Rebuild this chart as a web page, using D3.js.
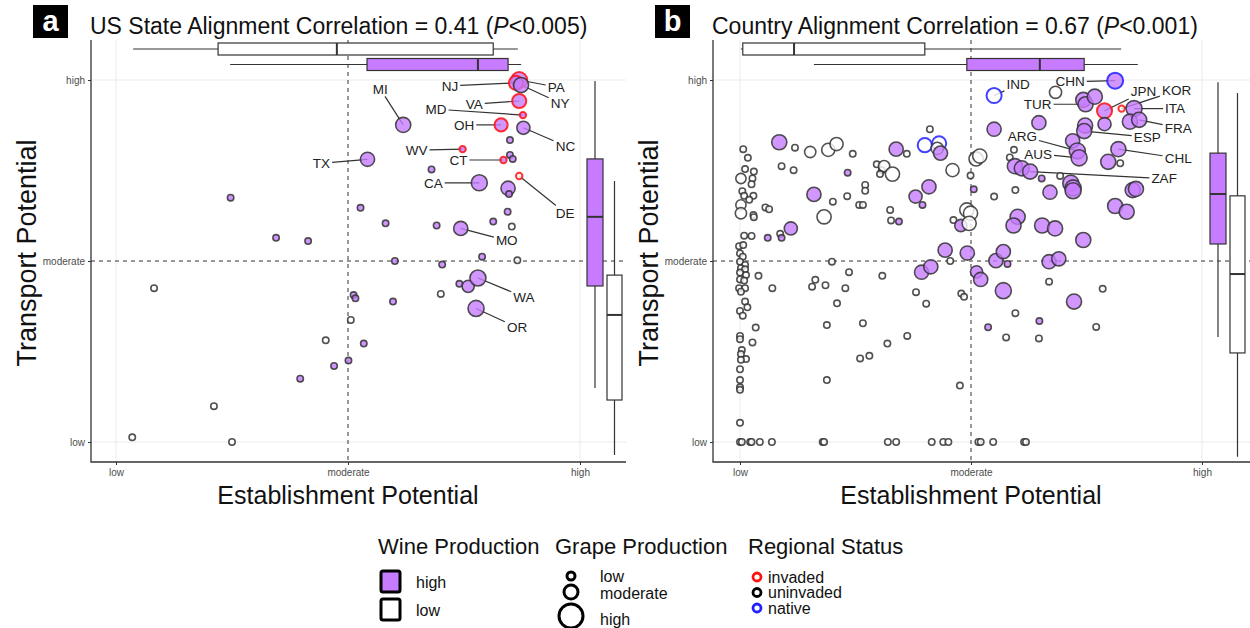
<!DOCTYPE html>
<html>
<head>
<meta charset="utf-8">
<script src="https://cdn.jsdelivr.net/npm/d3@7"></script>
<style>
  body { margin: 0; background: #fff; }
  svg text { font-family: "Liberation Sans", Arial, Helvetica, sans-serif; }
</style>
</head>
<body>
<svg id="chart" width="1250" height="628"></svg>
<script>
// ---- data -------------------------------------------------------------
// potentials are on a 0 (low) .. 50 (moderate) .. 100 (high) scale
const levelTicks = [0, 50, 100];
const levelLabels = ["low", "moderate", "high"];

// [label, establishment, transport, grape (0..1), wine (h/l), status (i/u/n)]
const usStates = [
  ["", 24.7, 67.5, 0, "h", "u"], ["", 34.5, 56.4, 0, "h", "u"], ["", 41.4, 55.5, 0, "h", "u"],
  ["MI", 61.9, 87.6, 0.75, "h", "u"], ["TX", 54.2, 78.1, 0.67, "h", "u"],
  ["PA", 86.9, 100, 0.83, "h", "i"], ["NJ", 86.2, 99.2, 0.67, "h", "i"], ["NY", 87.3, 98.6, 0.75, "h", "u"],
  ["VA", 86.9, 94.2, 0.67, "h", "i"], ["MD", 87.7, 90.3, 0, "h", "i"], ["OH", 83.0, 87.6, 0.58, "h", "i"],
  ["NC", 87.8, 86.8, 0.58, "h", "u"], ["", 84.9, 83.4, 0, "h", "u"], ["WV", 74.7, 80.9, 0, "h", "i"],
  ["CT", 83.5, 77.9, 0, "h", "i"], ["", 84.9, 79.3, 0, "h", "u"], ["", 85.5, 78.2, 0, "h", "u"],
  ["", 68.0, 75.3, 0, "h", "u"], ["CA", 78.3, 71.6, 0.83, "h", "u"], ["", 84.5, 70.1, 0.67, "h", "u"],
  ["", 84.7, 68.5, 0, "h", "u"], ["DE", 86.9, 73.5, 0, "l", "i"], ["", 52.7, 64.7, 0, "h", "u"],
  ["", 84.4, 63.6, 0, "h", "u"], ["", 58.1, 60.4, 0, "h", "u"], ["", 69.1, 59.8, 0, "h", "u"],
  ["", 81.3, 60.9, 0, "h", "u"], ["", 85.3, 59.5, 0, "l", "u"], ["MO", 74.3, 59.0, 0.67, "h", "u"],
  ["", 78.9, 51.2, 0, "h", "u"], ["", 60.1, 50.0, 0, "h", "u"], ["", 86.5, 50.2, 0, "l", "u"],
  ["", 70.3, 49.0, 0, "h", "u"], ["", 8.2, 42.5, 0, "l", "u"], ["", 51.2, 40.6, 0, "h", "u"],
  ["", 51.6, 39.7, 0, "h", "u"], ["", 59.7, 38.8, 0, "h", "u"], ["", 70.0, 40.9, 0, "l", "u"],
  ["", 74.0, 43.7, 0, "h", "u"], ["", 75.9, 43.0, 0.5, "h", "u"], ["WA", 78.0, 45.3, 0.83, "h", "u"],
  ["OR", 77.6, 36.9, 0.83, "h", "u"], ["", 50.6, 33.7, 0, "l", "u"], ["", 45.2, 28.1, 0, "l", "u"],
  ["", 53.4, 27.2, 0, "h", "u"], ["", 50.1, 22.5, 0, "h", "u"], ["", 47.0, 21.0, 0, "h", "u"],
  ["", 39.7, 17.5, 0, "h", "u"], ["", 21.1, 9.9, 0, "l", "u"], ["", 3.5, 1.3, 0, "l", "u"],
  ["", 25.0, 0, 0, "l", "u"]
];

const countries = [
  ["", 8.5, 82.8, .75, "h", "u"], ["", 11.9, 81.3, 0, "l", "u"], ["", 15.2, 80.1, .42, "l", "u"],
  ["", 19.1, 80.7, .58, "l", "u"], ["", 20.9, 82.3, .58, "l", "u"], ["", 24.4, 79.6, 0, "l", "u"],
  ["", 0.7, 80.9, 0, "l", "u"], ["", 1.7, 78.5, 0, "l", "u"], ["", 9.0, 76.2, 0, "l", "u"],
  ["", 11.6, 75.1, 0, "l", "u"], ["", 1.1, 75.4, 0, "l", "u"], ["", 3.0, 74.7, 0, "l", "u"],
  ["", 0.2, 72.8, .33, "l", "u"], ["", 2.7, 72.8, 0, "l", "u"], ["", 2.5, 71.2, 0, "l", "u"],
  ["", 0.5, 69.3, 0, "l", "u"], ["", 0.9, 68.0, 0, "l", "u"], ["", 2.9, 68.0, 0, "l", "u"],
  ["", 2.0, 66.9, 0, "l", "u"], ["", 0.2, 65.5, .33, "l", "u"], ["", 0.2, 63.2, .42, "l", "u"],
  ["", 2.9, 62.7, 0, "l", "u"], ["", 3.0, 62.1, 0, "l", "u"], ["", 0.9, 57.0, 0, "l", "u"],
  ["", 2.5, 56.9, 0, "l", "u"], ["", -0.2, 54.1, 0, "l", "u"], ["", 0.7, 54.4, 0, "l", "u"],
  ["", 0, 52.1, 0, "l", "u"], ["", 0.6, 51.2, 0, "l", "u"], ["", 23.3, 74.4, 0, "h", "u"],
  ["", 16.0, 68.4, .67, "h", "u"], ["", 20.1, 66.4, 0, "l", "u"], ["", 23.2, 67.9, 0, "l", "u"],
  ["", 18.2, 62.2, .67, "l", "u"], ["", 5.5, 64.8, 0, "l", "u"], ["", 6.3, 64.3, 0, "l", "u"],
  ["", 11.0, 59.0, .58, "h", "u"], ["", 6.0, 56.4, 0, "h", "u"], ["", 8.7, 57.5, 0, "l", "u"],
  ["", 9.0, 56.4, 0, "h", "u"], ["", 27.1, 71.0, 0, "l", "u"], ["", 27.1, 69.4, 0, "l", "u"],
  ["", 25.8, 65.5, 0, "l", "u"], ["", 26.6, 65.5, 0, "l", "u"], ["", 29.6, 76.7, 0, "l", "u"],
  ["", 30.7, 75.1, 0, "l", "u"], ["", 31.2, 76.2, .42, "l", "u"], ["", 33.0, 74.0, .67, "l", "u"],
  ["", 30.3, 74.0, 0, "l", "u"], ["", 33.8, 80.9, .67, "h", "u"], ["", 36.1, 79.6, 0, "l", "u"],
  ["", 41.1, 86.4, 0, "l", "u"], ["", 40.0, 82.0, .67, "l", "n"], ["", 43.1, 82.5, .67, "l", "n"],
  ["", 42.7, 81.1, .5, "l", "u"], ["", 43.4, 79.8, .67, "h", "u"], ["", 46.0, 75.1, .58, "l", "u"],
  ["", 49.9, 73.6, 0, "l", "u"], ["", 51.1, 78.2, .67, "l", "u"], ["", 51.9, 79.0, .67, "l", "u"],
  ["", 50.6, 69.8, 0, "h", "u"], ["", 40.9, 70.5, .67, "h", "u"], ["", 38.0, 67.8, .58, "h", "u"],
  ["", 39.5, 65.5, 0, "h", "u"], ["", 32.5, 64.1, 0, "l", "u"], ["", 32.7, 61.2, 0, "l", "u"],
  ["", 34.4, 60.9, 0, "h", "u"], ["", 46.2, 61.3, 0, "l", "u"], ["", 47.8, 59.8, .5, "h", "u"],
  ["", 49.1, 64.1, .67, "l", "u"], ["", 49.9, 63.2, .67, "l", "u"], ["", 49.6, 60.4, .67, "l", "u"],
  ["", 44.4, 53.0, .67, "h", "u"], ["", 49.2, 52.2, .67, "h", "u"],
  ["", 0, 49.8, 0, "l", "u"], ["", 1.1, 48.9, 0, "l", "u"], ["", 0.2, 48.0, 0, "l", "u"],
  ["", 1.1, 47.7, 0, "l", "u"], ["", 0, 46.8, 0, "l", "u"], ["", 1.3, 46.1, 0, "l", "u"],
  ["", 0, 44.9, 0, "l", "u"], ["", 0.9, 44.6, 0, "l", "u"], ["", -0.2, 42.5, 0, "l", "u"],
  ["", 1.1, 42.5, 0, "l", "u"], ["", 0.2, 41.5, 0, "l", "u"], ["", 1.1, 38.8, 0, "l", "u"],
  ["", 1.6, 37.2, 0, "l", "u"], ["", 0, 36.2, 0, "l", "u"], ["", 0.6, 34.9, 0, "l", "u"],
  ["", 0, 29.3, 0, "l", "u"], ["", 0, 28.4, 0, "l", "u"], ["", 0.4, 25.4, 0, "l", "u"],
  ["", 1.3, 22.9, 0, "l", "u"], ["", 0.2, 24.3, 0, "l", "u"], ["", 0.2, 22.7, 0, "l", "u"],
  ["", 0, 20.1, 0, "l", "u"], ["", 0, 17.1, 0, "l", "u"], ["", 0, 15.1, 0, "l", "u"],
  ["", 0, 14.4, 0, "l", "u"], ["", 0, 5.3, 0, "l", "u"],
  ["", 4.0, 45.9, 0, "l", "u"], ["", 7.0, 42.5, 0, "l", "u"], ["", 3.4, 31.6, 0, "l", "u"],
  ["", 2.7, 27.5, 0, "l", "u"], ["", 19.9, 49.8, 0, "l", "u"], ["", 23.6, 46.9, 0, "l", "u"],
  ["", 16.3, 44.8, 0, "l", "u"], ["", 15.6, 42.9, 0, "l", "u"], ["", 18.5, 43.3, 0, "l", "u"],
  ["", 22.8, 42.5, 0, "l", "u"], ["", 21.0, 38.3, 0, "l", "u"], ["", 30.8, 45.9, 0, "l", "u"],
  ["", 18.8, 32.3, 0, "l", "u"], ["", 26.6, 32.8, 0, "l", "u"], ["", 31.9, 27.2, 0, "l", "u"],
  ["", 36.2, 29.3, 0, "l", "u"], ["", 26.0, 23.1, 0, "l", "u"], ["", 28.0, 23.8, 0, "l", "u"],
  ["", 18.8, 17.1, 0, "l", "u"], ["", 38.1, 41.4, 0, "l", "u"], ["", 40.3, 38.2, 0, "l", "u"],
  ["", 45.5, 50.0, 0, "l", "u"], ["", 47.9, 41.0, 0, "l", "u"], ["", 48.5, 40.1, 0, "l", "u"],
  ["", 47.6, 15.6, 0, "l", "u"], ["", 39.3, 46.9, .67, "h", "u"], ["", 41.3, 48.4, .67, "h", "u"],
  ["", 0, 0, 0, "l", "u"], ["", 0.4, 0, 0, "l", "u"], ["", 2.2, 0, 0, "l", "u"], ["", 2.5, 0, 0, "l", "u"],
  ["", 4.3, 0, 0, "l", "u"], ["", 6.9, 0, 0, "l", "u"], ["", 17.9, 0, 0, "l", "u"], ["", 18.2, 0, 0, "l", "u"],
  ["", 32.0, 0, 0, "l", "u"], ["", 33.8, 0, 0, "l", "u"], ["", 41.5, 0, 0, "l", "u"], ["", 44.0, 0, 0, "l", "u"],
  ["", 45.1, 0, 0, "l", "u"], ["", 51.6, 0, 0, "l", "u"], ["", 52.1, 0, 0, "l", "u"], ["", 54.8, 0, 0, "l", "u"],
  ["", 61.5, 0, 0, "l", "u"], ["", 61.9, 0, 0, "l", "u"],
  ["", 55.4, 50.1, .67, "h", "u"], ["", 57.0, 52.6, .67, "h", "u"], ["", 57.9, 49.2, 0, "h", "u"],
  ["", 51.2, 47.0, .5, "h", "u"], ["", 52.1, 44.9, .67, "h", "u"], ["", 57.0, 41.8, .83, "h", "u"],
  ["", 66.9, 49.8, .67, "h", "u"], ["", 69.0, 50.6, .67, "h", "u"], ["", 66.9, 44.3, 0, "l", "u"],
  ["", 78.5, 42.3, 0, "l", "u"], ["", 72.3, 38.8, .75, "h", "u"], ["", 59.6, 35.6, 0, "l", "u"],
  ["", 64.8, 33.4, 0, "h", "u"], ["", 53.7, 31.7, 0, "h", "u"], ["", 77.1, 31.8, 0, "l", "u"],
  ["", 57.6, 28.9, 0, "l", "u"], ["", 64.7, 28.6, 0, "l", "u"],
  ["CHN", 81.2, 99.8, .83, "h", "n"], ["IND", 55.0, 95.7, .75, "l", "n"], ["", 68.3, 96.6, .5, "l", "u"],
  ["", 74.3, 94.5, .75, "h", "u"], ["TUR", 74.8, 93.3, .75, "h", "u"], ["", 76.8, 95.4, .75, "h", "u"],
  ["JPN", 78.9, 91.5, .75, "h", "i"], ["KOR", 82.6, 92.1, 0, "l", "i"], ["ITA", 85.3, 92.1, .83, "h", "u"],
  ["", 84.4, 88.5, .75, "h", "u"], ["FRA", 86.4, 89.0, .75, "h", "u"], ["", 78.9, 87.8, .58, "h", "u"],
  ["", 64.7, 88.2, .67, "h", "u"], ["", 55.0, 86.4, .67, "h", "u"], ["", 74.7, 87.4, .75, "h", "u"],
  ["ESP", 74.5, 85.9, .75, "h", "u"], ["", 72.0, 83.2, .67, "h", "u"], ["ARG", 73.0, 80.4, .83, "h", "u"],
  ["AUS", 73.4, 78.5, .83, "h", "u"], ["CHL", 81.9, 80.9, .75, "h", "u"], ["", 79.7, 77.4, .75, "h", "u"],
  ["", 82.3, 77.0, 0, "l", "u"], ["", 59.3, 80.7, 0, "l", "u"], ["", 58.4, 78.6, 0, "l", "u"],
  ["", 59.5, 76.2, .75, "h", "u"], ["", 61.0, 75.6, .75, "h", "u"], ["ZAF", 62.8, 74.7, .75, "h", "u"],
  ["", 65.3, 72.8, 0, "h", "u"], ["", 69.3, 73.5, 0, "l", "u"], ["", 71.6, 71.5, .83, "h", "u"],
  ["", 72.1, 70.2, .83, "h", "u"], ["", 72.1, 69.4, .83, "h", "u"], ["", 67.1, 69.0, .67, "h", "u"],
  ["", 85.0, 69.6, .75, "h", "u"], ["", 85.7, 69.9, .75, "h", "u"], ["", 55.0, 67.8, 0, "l", "u"],
  ["", 59.6, 69.6, 0, "l", "u"], ["", 81.2, 65.2, .75, "h", "u"], ["", 83.7, 63.6, .75, "h", "u"],
  ["", 60.1, 62.2, .75, "h", "u"], ["", 59.2, 59.8, .75, "h", "u"], ["", 65.4, 59.8, .75, "h", "u"],
  ["", 68.2, 59.0, .75, "h", "u"], ["", 74.3, 55.8, .75, "h", "u"]
];

// marginal box plots: [lower whisker, Q1, median, Q3, upper whisker]
const usEstBoxLow = [3.7, 22.0, 47.6, 81.3, 86.6];
const usEstBoxHigh = [24.6, 54.1, 78.0, 84.5, 87.3];
const usTransBoxHigh = [14.9, 43.1, 62.2, 78.2, 99.7];
const usTransBoxLow = [-3.6, 11.6, 35.1, 46.1, 72.1];
const ctryEstBoxLow = [0.2, 0.6, 11.7, 40.0, 82.5];
const ctryEstBoxHigh = [16.0, 49.1, 64.9, 74.5, 86.1];
const ctryTransBoxHigh = [29.0, 54.7, 68.5, 79.8, 99.4];
const ctryTransBoxLow = [-4.1, 24.6, 46.4, 68.0, 96.4];

// label offsets from their point, px (repel layout)
const usLabelPos = {
  MI: [-23, -36], TX: [-46, 4], NJ: [-66, 3], PA: [37, 7], NY: [39, 18], VA: [-45, 3],
  MD: [-87, -6], OH: [-37, 0], NC: [42, 18], WV: [-46, 1], CT: [-45, 0], CA: [-46, 0],
  DE: [46, 37], MO: [46, 12], WA: [46, 19], OR: [41, 19]
};
const ctryLabelPos = {
  IND: [24, -11], CHN: [-45, 1], TUR: [-48, 0], JPN: [39, -19], KOR: [55, -18], ITA: [41, 0],
  FRA: [39, 8], ESP: [63, 6], ARG: [-55, -15], AUS: [-41, -4], CHL: [60, 9], ZAF: [134, 7]
};

// ---- drawing ----------------------------------------------------------
const PURPLE = "#c77cff";
const INK = "#333333";
const statusColor = { i: "#ff1010", u: "#333333", n: "#2020ff" };
const radius = d3.scaleLinear().domain([0, 1]).range([3.2, 9]);

const svg = d3.select("#chart");

function drawPanel(o) {
  const x = d3.scaleLinear().domain([0, 100]).range([o.x0, o.x1]);
  const y = d3.scaleLinear().domain([0, 100]).range([442, 80]);
  const top = 40, bottom = 462;
  const g = svg.append("g");

  // grid
  levelTicks.filter(t => t !== 50).forEach(t => {
    g.append("line").attr("x1", x(t)).attr("x2", x(t)).attr("y1", top).attr("y2", bottom)
      .attr("stroke", "#ebebeb").attr("stroke-width", 1);
    g.append("line").attr("x1", o.left).attr("x2", o.right).attr("y1", y(t)).attr("y2", y(t))
      .attr("stroke", "#ebebeb").attr("stroke-width", 1);
  });
  g.append("line").attr("x1", x(50)).attr("x2", x(50)).attr("y1", top).attr("y2", bottom)
    .attr("stroke", INK).attr("stroke-dasharray", "4,4").attr("stroke-width", 1);
  g.append("line").attr("x1", o.left).attr("x2", o.right).attr("y1", y(50)).attr("y2", y(50))
    .attr("stroke", INK).attr("stroke-dasharray", "4,4").attr("stroke-width", 1);

  // top box plots (establishment)
  const hBox = (s, cy, fill) => {
    g.append("line").attr("x1", x(s[0])).attr("x2", x(s[4])).attr("y1", cy).attr("y2", cy)
      .attr("stroke", INK).attr("stroke-width", 1.2);
    g.append("rect").attr("x", x(s[1])).attr("width", x(s[3]) - x(s[1]))
      .attr("y", cy - 6).attr("height", 12).attr("fill", fill).attr("stroke", INK).attr("stroke-width", 1.2);
    g.append("line").attr("x1", x(s[2])).attr("x2", x(s[2])).attr("y1", cy - 6).attr("y2", cy + 6)
      .attr("stroke", INK).attr("stroke-width", 2);
  };
  hBox(o.estLow, 49, "#fff");
  hBox(o.estHigh, 64.5, PURPLE);

  // right box plots (transport)
  const vBox = (s, x0, x1, fill) => {
    const cx = (x0 + x1) / 2;
    g.append("line").attr("x1", cx).attr("x2", cx).attr("y1", y(s[0])).attr("y2", y(s[4]))
      .attr("stroke", INK).attr("stroke-width", 1.2);
    g.append("rect").attr("x", x0).attr("width", x1 - x0)
      .attr("y", y(s[3])).attr("height", y(s[1]) - y(s[3])).attr("fill", fill)
      .attr("stroke", INK).attr("stroke-width", 1.2);
    g.append("line").attr("x1", x0).attr("x2", x1).attr("y1", y(s[2])).attr("y2", y(s[2]))
      .attr("stroke", INK).attr("stroke-width", 2);
  };
  vBox(o.transHigh, o.boxX, o.boxX + 16, PURPLE);
  vBox(o.transLow, o.boxX + 20, o.boxX + 35, "#fff");

  // axes
  const ax = g.append("g").attr("transform", `translate(0,${bottom})`)
    .call(d3.axisBottom(x).tickValues(levelTicks).tickFormat((d, i) => levelLabels[i]).tickSize(3).tickPadding(4));
  const ay = g.append("g").attr("transform", `translate(${o.left},0)`)
    .call(d3.axisLeft(y).tickValues(levelTicks).tickFormat((d, i) => levelLabels[i]).tickSize(3).tickPadding(3));
  [ax, ay].forEach(a => {
    a.select(".domain").remove();
    a.selectAll(".tick line").attr("stroke", INK);
    a.selectAll(".tick text").attr("fill", "#4d4d4d").style("font-size", "10px")
      .style("font-family", '"Liberation Sans", Arial, sans-serif');
  });
  g.append("path").attr("d", `M${o.left},${top}V${bottom}H${o.right}`)
    .attr("fill", "none").attr("stroke", INK).attr("stroke-width", 1.3);

  // axis titles
  g.append("text").attr("x", x(50)).attr("y", 504).attr("text-anchor", "middle")
    .style("font-size", "25px").attr("fill", "#111").text("Establishment Potential");
  g.append("text").attr("transform", `translate(${o.left - 55},${(top + bottom) / 2 + 2}) rotate(-90)`)
    .attr("text-anchor", "middle").style("font-size", "27px").attr("fill", "#111").text("Transport Potential");

  // label segments (drawn under points)
  const segG = g.append("g");
  const rows = o.data.map(r => ({ label: r[0], est: r[1], trans: r[2], grape: r[3], wine: r[4], status: r[5] }));

  g.append("g").selectAll("circle").data(rows).join("circle")
    .attr("cx", d => x(d.est)).attr("cy", d => y(d.trans)).attr("r", d => radius(d.grape))
    .attr("fill", d => d.wine === "h" ? PURPLE : "#fff").attr("fill-opacity", 0.8)
    .attr("stroke", d => statusColor[d.status]).attr("stroke-opacity", 0.85)
    .attr("stroke-width", d => d.status === "u" ? 1.6 : 2);

  // labels
  const labG = g.append("g");
  rows.filter(d => d.label).forEach(d => {
    const off = o.labelPos[d.label];
    const px = x(d.est), py = y(d.trans);
    const lx = px + off[0], ly = py + off[1];
    const t = labG.append("text").attr("x", lx).attr("y", ly).attr("dy", "0.35em")
      .attr("text-anchor", "middle").style("font-size", "13.5px").attr("fill", "#222").text(d.label);
    const bb = t.node().getBBox();
    const hw = bb.width / 2 + 2, hh = bb.height / 2;
    const dx = px - lx, dy = py - ly;
    const s = Math.min(dx ? hw / Math.abs(dx) : Infinity, dy ? hh / Math.abs(dy) : Infinity);
    if (s < 1) {
      segG.append("line").attr("x1", lx + dx * s).attr("y1", ly + dy * s).attr("x2", px).attr("y2", py)
        .attr("stroke", INK).attr("stroke-width", 1.2);
    }
  });

  // title
  svg.append("rect").attr("x", o.letterX).attr("y", 5).attr("width", 35).attr("height", 33).attr("fill", "#000");
  svg.append("text").attr("x", o.letterX + 17.5).attr("y", 31).attr("text-anchor", "middle")
    .style("font-size", "29px").style("font-weight", "bold").attr("fill", "#fff").text(o.letter);
  const title = svg.append("text").attr("x", o.left - 1).attr("y", 34).style("font-size", "23px").attr("fill", "#111");
  title.append("tspan").text(o.title + " (");
  title.append("tspan").style("font-style", "italic").text("P");
  title.append("tspan").text(o.pText + ")");
}

drawPanel({
  left: 91, right: 626, x0: 116, x1: 580, boxX: 587, data: usStates, labelPos: usLabelPos,
  estLow: usEstBoxLow, estHigh: usEstBoxHigh, transHigh: usTransBoxHigh, transLow: usTransBoxLow,
  letter: "a", letterX: 33, title: "US State Alignment Correlation = 0.41", pText: "<0.005"
});
drawPanel({
  left: 713, right: 1250, x0: 740, x1: 1202, boxX: 1210, data: countries, labelPos: ctryLabelPos,
  estLow: ctryEstBoxLow, estHigh: ctryEstBoxHigh, transHigh: ctryTransBoxHigh, transLow: ctryTransBoxLow,
  letter: "b", letterX: 655, title: "Country Alignment Correlation = 0.67", pText: "<0.001"
});

// ---- legend -----------------------------------------------------------
const wineLevels = [["high", PURPLE], ["low", "#fff"]];
const grapeLevels = [["low", 4], ["moderate", 7], ["high", 12]];
const statusLevels = [["invaded", "i"], ["uninvaded", "u"], ["native", "n"]];

const leg = svg.append("g");
const legTitle = (x, t) => leg.append("text").attr("x", x).attr("y", 554)
  .style("font-size", "22px").attr("fill", "#111").text(t);
const legText = (x, y, t) => leg.append("text").attr("x", x).attr("y", y).attr("dy", "0.35em")
  .style("font-size", "16px").attr("fill", "#111").text(t);

legTitle(378, "Wine Production");
wineLevels.forEach(([lab, fill], i) => {
  leg.append("rect").attr("x", 381).attr("y", 571 + i * 28).attr("width", 19).attr("height", 21)
    .attr("rx", 2).attr("fill", fill).attr("stroke", "#000").attr("stroke-width", 3);
  legText(416, 582 + i * 28, lab);
});

legTitle(555, "Grape Production");
const grapeY = [576, 592, 616];
grapeLevels.forEach(([lab, r], i) => {
  leg.append("circle").attr("cx", 571).attr("cy", grapeY[i]).attr("r", r)
    .attr("fill", "#fff").attr("stroke", "#000").attr("stroke-width", 3);
  legText(600, [576, 593, 619][i], lab);
});

legTitle(748, "Regional Status");
statusLevels.forEach(([lab, s], i) => {
  leg.append("circle").attr("cx", 757).attr("cy", 577 + i * 15.5).attr("r", 4)
    .attr("fill", "#fff").attr("stroke", s === "u" ? "#000" : statusColor[s]).attr("stroke-width", 2.8);
  legText(768, 577 + i * 15.5, lab);
});
</script>
</body>
</html>
